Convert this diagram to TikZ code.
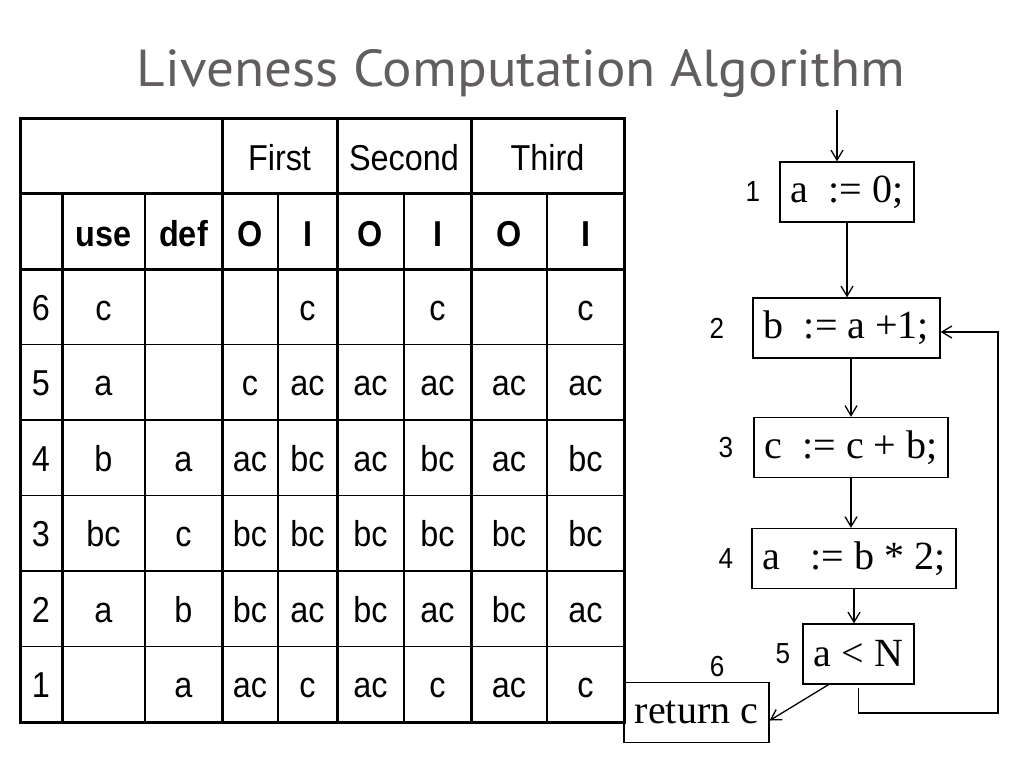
\documentclass[tikz,border=0pt]{standalone}
\usepackage{fontspec}
\setmainfont{Liberation Serif}
\newfontfamily\tabfont[FakeStretch=0.9]{Liberation Sans}
\newfontfamily\titlefont[FakeStretch=1.06]{PT Sans}
\usetikzlibrary{arrows.meta}
\usetikzlibrary{positioning}
\definecolor{titlegray}{RGB}{98,94,96}

\begin{document}
\begin{tikzpicture}[x=1pt, y=-1pt,
    thickline/.style={line width=3pt},
    thinline/.style={line width=1.4pt},
    cell/.style={anchor=base, inner sep=0pt, font=\tabfont\fontsize{36}{40}\selectfont},
    headcell/.style={cell, font=\tabfont\bfseries\fontsize{36}{40}\selectfont},
    stmt/.style={draw, line width=1.3pt, inner sep=0pt, minimum height=60pt, font=\fontsize{40}{44}\selectfont},
    num/.style={inner sep=0pt, font=\tabfont\fontsize{29}{32}\selectfont},
    flow/.style={line width=1.3pt, -{Straight Barb[length=10pt,width=12pt]}}]
    \useasboundingbox (0,0) rectangle (1024,768);
    \node[font=\titlefont\fontsize{52}{60}\selectfont, text=titlegray, anchor=base, inner sep=0pt] (title) at (521,86) {Liveness Computation Algorithm};

    \draw[thickline] (20,118) rectangle (624,722);
    \foreach \y in {193.5,269} \draw[thickline] (20,\y) -- (624,\y);
    \foreach \y in {344.5,420,495.5,571,646.5} \draw[thinline] (20,\y) -- (624,\y);
    \foreach \x in {222,337,471} \draw[thickline] (\x,118) -- (\x,722);
    \draw[thickline] (62,193.5) -- (62,722);
    \foreach \x in {145,278,404,547} \draw[thinline] (\x,193.5) -- (\x,722);

    \foreach \t/\x in {First/279.5,Second/404,Third/547.5}
        \node[cell] (head-\t) at (\x,170) {\t};
    \foreach \t [count=\c] in {{},use,def,O,I,O,I,O,I} {
        \pgfmathsetmacro\xc{{41,103.5,183.5,250,307.5,370.5,437.5,509,585.5}[\c-1]}
        \node[headcell] (sub-\c) at (\xc,246) {\t};
    }
    \foreach \row [count=\r] in {{6,c,{},{},c,{},c,{},c},{5,a,{},c,ac,ac,ac,ac,ac},{4,b,a,ac,bc,ac,bc,ac,bc},{3,bc,c,bc,bc,bc,bc,bc,bc},{2,a,b,bc,ac,bc,ac,bc,ac},{1,{},a,ac,c,ac,c,ac,c}}
        \foreach \t [count=\c] in \row {
            \pgfmathsetmacro\xc{{41,103.5,183.5,250,307.5,370.5,437.5,509,585.5}[\c-1]}
            \node[cell] (cell-\r-\c) at (\xc,320.25+75.5*\r-75.5) {\t};
        }

    \node[stmt, minimum width=134pt] (b1) at (847,192) {a\ \ := 0;};
    \node[stmt, minimum width=187pt] (b2) at (846.5,328) {b\ \ := a +1;};
    \node[stmt, minimum width=194pt] (b3) at (851,447.5) {c\ \ := c + b;};
    \node[stmt, minimum width=204pt] (b4) at (854,558.5) {a\ \ \ := b * 2;};
    \node[stmt, minimum width=111pt] (b5) at (858.5,654) {a < N};
    \node[stmt, minimum width=145pt] (b6) at (696.5,712.5) {return c};

    \node[num, left=19pt of b1] (n1) {1};
    \node[num, left=28pt of b2] (n2) {2};
    \node[num, left=20pt of b3] (n3) {3};
    \node[num, left=18pt of b4] (n4) {4};
    \node[num, left=12pt of b5] (n5) {5};
    \node[num] (n6) at (717,667) {6};

    \coordinate (entry) at (837,110);
    \coordinate (loop) at (998,713);
    \draw[flow] (entry) -- (entry |- b1.north);
    \draw[flow] (b1.south) -- (b1.south |- b2.north);
    \draw[flow] (b3.north |- b2.south) -- (b3.north);
    \draw[flow] (b3.south) -- (b3.south |- b4.north);
    \draw[flow] (b4.south) -- (b4.south |- b5.north);
    \draw[flow] ([xshift=-30pt]b5.south) -- ([yshift=-8pt]b6.east);
    \draw[flow] ([yshift=-3pt]b5.south) |- (loop) |- ([yshift=-4pt]b2.east);
\end{tikzpicture}
\end{document}
